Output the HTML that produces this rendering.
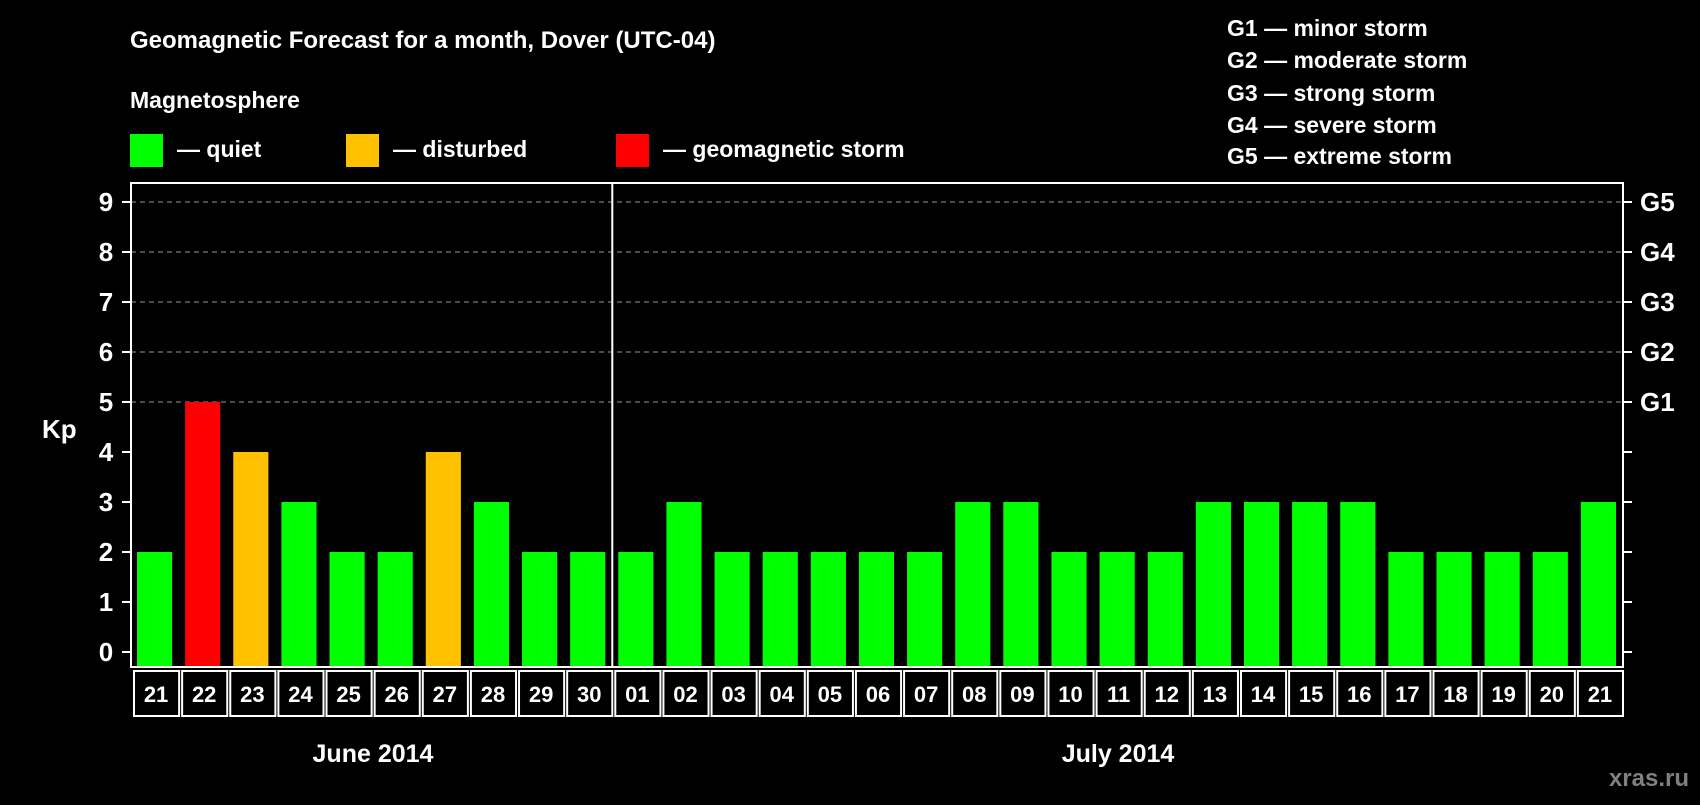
<!DOCTYPE html>
<html><head><meta charset="utf-8"><style>
body{margin:0;background:#000;width:1700px;height:800px;overflow:hidden}
svg text{font-family:"Liberation Sans",Arial,sans-serif;font-weight:bold;fill:#fff}
</style></head><body>
<svg id="c" width="1700" height="800" xmlns="http://www.w3.org/2000/svg">
<rect width="1700" height="800" fill="#000"/>
<text x="130" y="48" font-size="24">Geomagnetic Forecast for a month, Dover (UTC-04)</text>
<text x="130" y="108" font-size="23">Magnetosphere</text>
<g><rect x="130" y="134" width="33" height="33" fill="#00ff00"/><text x="177" y="157" font-size="23">— quiet</text></g>
<g><rect x="346" y="134" width="33" height="33" fill="#ffc000"/><text x="393" y="157" font-size="23">— disturbed</text></g>
<g><rect x="616" y="134" width="33" height="33" fill="#ff0000"/><text x="663" y="157" font-size="23">— geomagnetic storm</text></g>
<g font-size="23">
<text x="1227" y="36">G1 — minor storm</text>
<text x="1227" y="68">G2 — moderate storm</text>
<text x="1227" y="101">G3 — strong storm</text>
<text x="1227" y="133">G4 — severe storm</text>
<text x="1227" y="164">G5 — extreme storm</text>
</g>
<text x="42" y="438" font-size="26">Kp</text>
<g id="grid"></g><g id="bars"></g><g id="axes"></g>
<text x="373" y="762" font-size="25" text-anchor="middle">June 2014</text>
<text x="1118" y="762" font-size="25" text-anchor="middle">July 2014</text>
<text x="1689" y="786" font-size="24" text-anchor="end" style="fill:#808080">xras.ru</text>
</svg>
<script>
const days=["21","22","23","24","25","26","27","28","29","30","01","02","03","04","05","06","07","08","09","10","11","12","13","14","15","16","17","18","19","20","21"];
const kp=[2,5,4,3,2,2,4,3,2,2,2,3,2,2,2,2,2,3,3,2,2,2,3,3,3,3,2,2,2,2,3];
const yTicks=[0,1,2,3,4,5,6,7,8,9];
const gLabels=["G1","G2","G3","G4","G5"];
const NS="http://www.w3.org/2000/svg";
const L=131,R=1623,T=183,B=667,Y0=652,UNIT=50;
const pitch=(R-L)/days.length;
const y=v=>Y0-v*UNIT;
const xs=i=>L+i*pitch;
function mk(tag,attrs,parent){const e=document.createElementNS(NS,tag);for(const k in attrs)e.setAttribute(k,attrs[k]);parent.appendChild(e);return e;}
const grid=document.getElementById('grid'),bars=document.getElementById('bars'),axes=document.getElementById('axes');
yTicks.forEach(v=>{
  if(v>=5){const g=mk('line',{x1:L,x2:R,y1:y(v),y2:y(v),stroke:'#999','stroke-dasharray':'5,4','stroke-width':1},grid);
  
  }
  const t1=mk('line',{x1:L-9,x2:L,y1:y(v),y2:y(v),stroke:'#fff','stroke-width':2},axes);
  
  
  const t2=mk('line',{x1:R,x2:R+9,y1:y(v),y2:y(v),stroke:'#fff','stroke-width':2},axes);
  
  
  const tl=mk('text',{x:106,y:y(v)+9,'font-size':26,'text-anchor':'middle'},axes);tl.textContent=v;
  
  
});
gLabels.forEach((g,i)=>{const t=mk('text',{x:1640,y:y(i+5)+9,'font-size':26},axes);t.textContent=g;
  
  });
kp.forEach((v,i)=>{
  const col=v>=5?'#ff0000':v>=4?'#ffc000':'#00ff00';
  const b=mk('rect',{x:xs(i)+6,y:y(v),width:pitch-13,height:B-y(v),fill:col},bars);
  
  
  const bx=mk('rect',{x:xs(i)+3,y:B+4,width:pitch-3,height:45,fill:'none',stroke:'#fff','stroke-width':2},axes);
  
  
  const t=mk('text',{x:xs(i)+pitch/2+1,y:B+35,'font-size':22,'text-anchor':'middle'},axes);t.textContent=days[i];
  
  
});
const fr=mk('rect',{x:L,y:T,width:R-L,height:B-T,fill:'none',stroke:'#fff','stroke-width':2},axes);


const dv=mk('line',{x1:xs(10),x2:xs(10),y1:T,y2:B,stroke:'#fff','stroke-width':2},axes);


</script>
</body></html>
